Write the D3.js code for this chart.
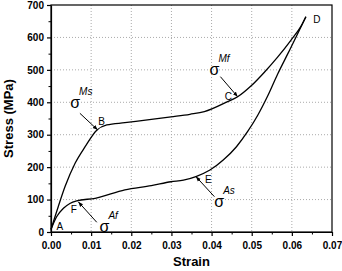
<!DOCTYPE html>
<html>
<head>
<meta charset="utf-8">
<script src="https://cdn.jsdelivr.net/npm/d3@7"></script>
<style>
  body { margin: 0; background: #fff; }
  svg { display: block; font-family: Arial, "Liberation Sans", sans-serif; }
</style>
</head>
<body>
<svg id="chart" width="342" height="271"></svg>
<script>
// loading branch (A -> B -> C -> D)
var loadStrain = [0, 0.0018, 0.0035, 0.006, 0.0085, 0.0114, 0.0139, 0.0184, 0.025, 0.0299, 0.0346, 0.0382, 0.044, 0.0465, 0.0498, 0.0531, 0.0565, 0.0598, 0.0623, 0.0635];
var loadStress = [8, 78, 140, 212, 263, 314, 330, 337, 347, 355, 363, 371, 402, 417, 450, 492, 540, 592, 635, 664];

// unloading branch (D -> E -> F -> A)
var unloadStrain = [0, 0.0014, 0.0031, 0.0047, 0.0064, 0.011, 0.0184, 0.025, 0.0299, 0.033, 0.0361, 0.0396, 0.0429, 0.0462, 0.049, 0.0515, 0.054, 0.0565, 0.059, 0.0612, 0.0635];
var unloadStress = [8, 47, 73, 88, 96, 104, 130, 143, 155, 160, 171, 191, 222, 263, 310, 360, 420, 488, 550, 605, 664];

var xTicks = [0, 0.01, 0.02, 0.03, 0.04, 0.05, 0.06, 0.07];
var yTicks = [0, 100, 200, 300, 400, 500, 600, 700];

// point letters
var pointNames = ["A", "B", "C", "D", "E", "F"];
var pointStrain = [0.0022, 0.0126, 0.0442, 0.0662, 0.0392, 0.0057];
var pointStress = [16, 340, 417, 654, 163, 68];

// sigma markers with their arrows
var sigmaNames = ["Ms", "Mf", "As", "Af"];
var sigmaStrain = [0.006, 0.0407, 0.0419, 0.0133];
var sigmaStress = [397, 500, 93, 16];
var arrowFrom = [[0.0072, 366], [0.0422, 479], [0.0407, 109], [0.0114, 30]];
var arrowTo = [[0.0116, 315], [0.0465, 417], [0.0361, 171], [0.0068, 93]];

var svg = d3.select("#chart");
var margin = {top: 5, right: 10, bottom: 39, left: 51};
var width = 342 - margin.left - margin.right;
var height = 271 - margin.top - margin.bottom;

var g = svg.append("g").attr("transform", "translate(" + margin.left + "," + margin.top + ")");

var x = d3.scaleLinear().domain([0, 0.07]).range([0, width]);
var y = d3.scaleLinear().domain([0, 700]).range([height, 0]);

// dotted grid
g.selectAll(".vgrid").data(xTicks.slice(1, -1)).enter().append("line")
  .attr("x1", function (d) { return x(d); }).attr("x2", function (d) { return x(d); })
  .attr("y1", 0).attr("y2", height)
  .attr("stroke", "#aaa").attr("stroke-width", 1).attr("stroke-dasharray", "1,2");
g.selectAll(".hgrid").data(yTicks.slice(1, -1)).enter().append("line")
  .attr("x1", 0).attr("x2", width)
  .attr("y1", function (d) { return y(d); }).attr("y2", function (d) { return y(d); })
  .attr("stroke", "#aaa").attr("stroke-width", 1).attr("stroke-dasharray", "1,2");

// minor ticks
var xMinor = d3.range(0.005, 0.07, 0.01);
var yMinor = d3.range(50, 700, 100);
g.append("g").attr("transform", "translate(0," + height + ")")
  .call(d3.axisBottom(x).tickValues(xMinor).tickSize(2.5).tickFormat(""))
  .call(function (a) { a.select(".domain").remove(); });
g.append("g")
  .call(d3.axisLeft(y).tickValues(yMinor).tickSize(2.5).tickFormat(""))
  .call(function (a) { a.select(".domain").remove(); });

// major axes
var xAxis = g.append("g").attr("transform", "translate(0," + height + ")")
  .call(d3.axisBottom(x).tickValues(xTicks).tickSize(4).tickSizeOuter(0).tickFormat(d3.format(".2f")));
var yAxis = g.append("g")
  .call(d3.axisLeft(y).tickValues(yTicks).tickSize(4).tickSizeOuter(0));

[xAxis, yAxis].forEach(function (a) {
  a.selectAll("text").attr("font-size", 10).attr("font-weight", "bold")
    .attr("font-family", "Arial, 'Liberation Sans', sans-serif").attr("fill", "#000");
  a.selectAll("line").attr("stroke", "#000").attr("stroke-width", 1.2);
  a.select(".domain").attr("stroke", "#000").attr("stroke-width", 1.2);
});
xAxis.selectAll("text").attr("dy", "0.95em");

// frame
g.append("rect").attr("width", width).attr("height", height)
  .attr("fill", "none").attr("stroke", "#000").attr("stroke-width", 1.2);

// curves
var line = d3.line()
  .x(function (d) { return x(d[0]); })
  .y(function (d) { return y(d[1]); })
  .curve(d3.curveMonotoneX);

g.append("path").datum(d3.zip(loadStrain, loadStress))
  .attr("d", line).attr("fill", "none").attr("stroke", "#000").attr("stroke-width", 1.3);
g.append("path").datum(d3.zip(unloadStrain, unloadStress))
  .attr("d", line).attr("fill", "none").attr("stroke", "#000").attr("stroke-width", 1.3);

// arrowhead
svg.append("defs").append("marker")
  .attr("id", "head").attr("viewBox", "0 0 10 10")
  .attr("refX", 10).attr("refY", 5)
  .attr("markerWidth", 5).attr("markerHeight", 5)
  .attr("orient", "auto")
  .append("path").attr("d", "M0,1L10,5L0,9Z").attr("fill", "#000");

g.selectAll(".arrow").data(d3.range(arrowFrom.length)).enter().append("line")
  .attr("x1", function (i) { return x(arrowFrom[i][0]); })
  .attr("y1", function (i) { return y(arrowFrom[i][1]); })
  .attr("x2", function (i) { return x(arrowTo[i][0]); })
  .attr("y2", function (i) { return y(arrowTo[i][1]); })
  .attr("stroke", "#000").attr("stroke-width", 1)
  .attr("marker-end", "url(#head)");

// point letters
g.selectAll(".pt").data(pointNames).enter().append("text")
  .attr("x", function (d, i) { return x(pointStrain[i]); })
  .attr("y", function (d, i) { return y(pointStress[i]); })
  .attr("text-anchor", "middle").attr("dy", "0.35em")
  .attr("font-size", 10).text(function (d) { return d; });

// sigma symbols with italic labels
var sg = g.selectAll(".sigma").data(sigmaNames).enter().append("g")
  .attr("transform", function (d, i) { return "translate(" + x(sigmaStrain[i]) + "," + y(sigmaStress[i]) + ")"; });
sg.append("text").attr("text-anchor", "middle").attr("dy", "0.3em")
  .attr("font-size", 16).text("σ");
sg.append("text").attr("x", 4).attr("y", -8)
  .attr("font-size", 10).attr("font-style", "italic").text(function (d) { return d; });

// axis titles
svg.append("text")
  .attr("x", margin.left + width / 2).attr("y", 266)
  .attr("text-anchor", "middle").attr("font-size", 13).attr("font-weight", "bold")
  .text("Strain");
svg.append("text")
  .attr("transform", "translate(13," + (margin.top + height / 2) + ") rotate(-90)")
  .attr("text-anchor", "middle").attr("font-size", 13).attr("font-weight", "bold")
  .text("Stress (MPa)");
</script>
</body>
</html>
